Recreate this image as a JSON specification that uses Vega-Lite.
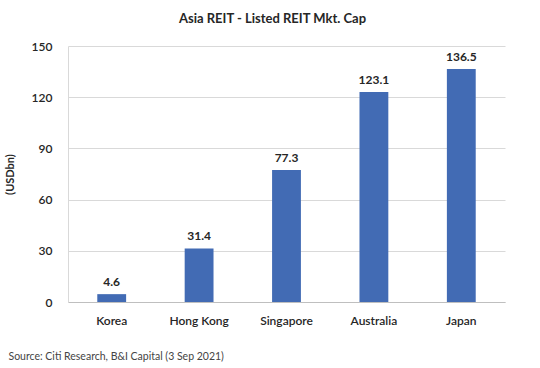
{
  "$schema": "https://vega.github.io/schema/vega-lite/v6.json",
  "width": 437,
  "height": 256,
  "autosize": {"type": "none"},
  "padding": {"left": 68, "top": 46, "right": 35, "bottom": 66},
  "background": "white",
  "config": {
    "font": "Lato",
    "view": {"stroke": null},
    "axis": {"labelFont": "Lato", "titleFont": "Lato", "labelColor": "#262626", "titleColor": "#262626"}
  },
  "title": {
    "text": "Asia REIT - Listed REIT Mkt. Cap",
    "font": "Lato",
    "fontSize": 13,
    "fontWeight": "bold",
    "color": "#262626",
    "anchor": "middle",
    "dx": -14,
    "offset": 14
  },
  "data": {
    "values": [
      {"market": "Korea", "cap": 4.6},
      {"market": "Hong Kong", "cap": 31.4},
      {"market": "Singapore", "cap": 77.3},
      {"market": "Australia", "cap": 123.1},
      {"market": "Japan", "cap": 136.5}
    ]
  },
  "encoding": {
    "x": {
      "field": "market",
      "type": "nominal",
      "sort": null,
      "scale": {"paddingInner": 0.67, "paddingOuter": 0.335},
      "axis": {
        "title": "Source: Citi Research, B&I Capital (3 Sep 2021)",
        "titleAnchor": "start",
        "titleAlign": "left",
        "titleX": -60,
        "titleY": 49,
        "titleFontSize": 10.5,
        "titleFontWeight": "normal",
        "titleColor": "#444444",
        "labelAngle": 0,
        "labelFontSize": 12,
        "labelFontWeight": 600,
        "labelPadding": 13,
        "ticks": false,
        "domainColor": "#bfbfbf",
        "grid": false
      }
    },
    "y": {
      "field": "cap",
      "type": "quantitative",
      "scale": {"domain": [0, 150]},
      "axis": {
        "title": "(USDbn)",
        "titleFontSize": 11,
        "titleFontWeight": "bold",
        "titlePadding": 16,
        "values": [0, 30, 60, 90, 120, 150],
        "labelFontSize": 12,
        "labelFontWeight": 600,
        "labelPadding": 16,
        "ticks": false,
        "domainColor": "#d9d9d9",
        "gridColor": "#d9d9d9"
      }
    }
  },
  "layer": [
    {"mark": {"type": "bar", "color": "#426BB4"}},
    {
      "mark": {"type": "text", "baseline": "bottom", "dy": -5, "fontSize": 12, "fontWeight": "bold", "color": "#262626", "font": "Lato"},
      "encoding": {"text": {"field": "cap", "type": "quantitative", "format": ".1f"}}
    }
  ]
}
